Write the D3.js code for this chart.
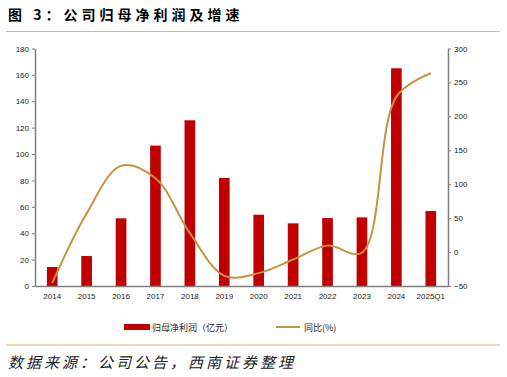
<!DOCTYPE html>
<html>
<head>
<meta charset="utf-8">
<script src="https://cdn.jsdelivr.net/npm/d3@7"></script>
<style>
  body { margin: 0; background: #fff; }
  svg { display: block; font-family: "Liberation Sans", "Noto Sans CJK SC", sans-serif; }
</style>
</head>
<body>
<svg id="chart" width="507" height="377"></svg>
<script>
// data
const years = ["2014", "2015", "2016", "2017", "2018", "2019", "2020", "2021", "2022", "2023", "2024", "2025Q1"];
const profit = [14.4, 22.7, 51.3, 106.4, 125.6, 81.9, 54, 47.5, 51.5, 52, 165, 56.8];
const growth = [-45.5, 57, 127, 108.7, 28, -35, -31, -11, 9.5, -1, 229, 263.5];
const leftTicks = [0, 20, 40, 60, 80, 100, 120, 140, 160, 180];
const rightTicks = [-50, 0, 50, 100, 150, 200, 250, 300];

const svg = d3.select("#chart");
const margin = { top: 48.5, bottom: 286, left: 35, right: 448 };

const x = d3.scaleBand()
    .domain(years)
    .range([margin.left, margin.right])
    .paddingInner(0.69)
    .paddingOuter(0.345);

const xc = d3.scaleBand().domain(years).range([margin.left, margin.right]);

const yL = d3.scaleLinear().domain([0, 180]).range([margin.bottom, margin.top]);
const yR = d3.scaleLinear().domain([-50, 300]).range([margin.bottom, margin.top]);

// title
svg.append("text")
    .attr("x", 8).attr("y", 20)
    .attr("font-size", "14px")
    .attr("font-weight", "bold")
    .attr("font-family", "Noto Sans CJK SC")
    .attr("letter-spacing", "4px")
    .text("图 3：公司归母净利润及增速");

svg.append("line")
    .attr("x1", 6).attr("x2", 500).attr("y1", 31.5).attr("y2", 31.5)
    .attr("stroke", "#D6B47E").attr("stroke-width", 1.2);

// bars
svg.append("g")
    .selectAll("rect")
    .data(years)
    .enter()
    .append("rect")
        .attr("x", d => x(d))
        .attr("width", x.bandwidth())
        .attr("y", (d, i) => yL(profit[i]))
        .attr("height", (d, i) => yL(0) - yL(profit[i]))
        .attr("fill", "#C00000");

// growth line (smoothed)
const line = d3.line()
    .x((d, i) => xc(years[i]) + xc.bandwidth() / 2)
    .y(d => yR(d))
    .curve(d3.curveCatmullRom.alpha(0.5));

svg.append("path")
    .datum(growth)
    .attr("d", line)
    .attr("fill", "none")
    .attr("stroke", "#C8913E")
    .attr("stroke-width", 2);

// axes
const axisColor = "#7f7f7f";

const gx = svg.append("g")
    .attr("transform", `translate(0,${margin.bottom})`)
    .call(d3.axisBottom(xc).tickSize(0).tickPadding(7));
gx.select(".domain").attr("stroke", axisColor).attr("stroke-width", 1.5);
gx.selectAll("text").attr("font-size", "8px").attr("fill", "#222");

const gl = svg.append("g")
    .attr("transform", `translate(${margin.left},0)`)
    .call(d3.axisLeft(yL).tickValues(leftTicks).tickSize(3).tickSizeOuter(0).tickPadding(3));
gl.select(".domain").attr("stroke", axisColor).attr("stroke-width", 1.5);
gl.selectAll(".tick line").attr("stroke", axisColor);
gl.selectAll("text").attr("font-size", "8px").attr("fill", "#222");

const gr = svg.append("g")
    .attr("transform", `translate(${margin.right},0)`)
    .call(d3.axisRight(yR).tickValues(rightTicks).tickSize(3).tickSizeOuter(0).tickPadding(3));
gr.select(".domain").attr("stroke", axisColor).attr("stroke-width", 1.5);
gr.selectAll(".tick line").attr("stroke", axisColor);
gr.selectAll("text").attr("font-size", "8px").attr("fill", "#222");

// legend
const legend = svg.append("g").attr("font-size", "9px").attr("fill", "#222");
legend.append("rect")
    .attr("x", 124).attr("y", 324).attr("width", 26).attr("height", 6)
    .attr("fill", "#C00000");
legend.append("text")
    .attr("x", 152).attr("y", 330.5)
    .attr("font-family", "Noto Sans CJK SC")
    .text("归母净利润（亿元）");
legend.append("line")
    .attr("x1", 276).attr("x2", 300).attr("y1", 327).attr("y2", 327)
    .attr("stroke", "#C8913E").attr("stroke-width", 2);
legend.append("text")
    .attr("x", 304).attr("y", 330.5)
    .attr("font-family", "Noto Sans CJK SC")
    .text("同比(%)");

// source
svg.append("line")
    .attr("x1", 6).attr("x2", 500).attr("y1", 345).attr("y2", 345)
    .attr("stroke", "#D6B47E").attr("stroke-width", 1.2);

svg.append("text")
    .attr("x", 8).attr("y", 368)
    .attr("font-size", "15px")
    .attr("font-style", "italic")
    .attr("font-family", "Noto Sans CJK SC")
    .attr("letter-spacing", "3px")
    .attr("fill", "#222")
    .text("数据来源：公司公告，西南证券整理");
</script>
</body>
</html>
